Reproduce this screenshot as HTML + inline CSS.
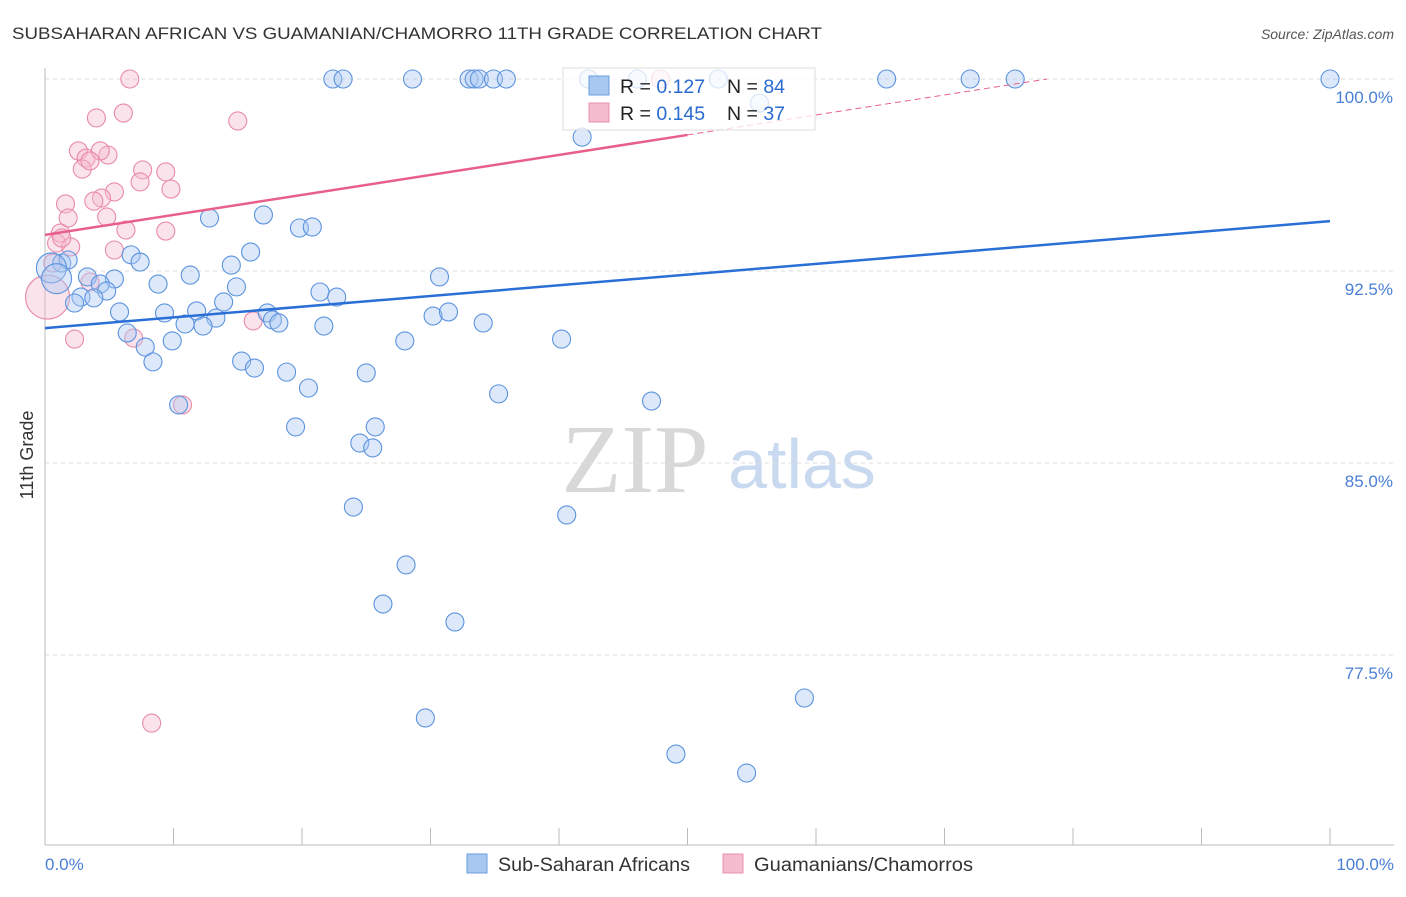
<!DOCTYPE html>
<html><head><meta charset="utf-8"><style>
body{margin:0;background:#fff;font-family:"Liberation Sans",sans-serif;}
svg text{font-family:"Liberation Sans",sans-serif;}
</style></head><body>
<svg width="1406" height="892" viewBox="0 0 1406 892">
<text x="12" y="39" font-size="17" fill="#333" textLength="810" lengthAdjust="spacingAndGlyphs">SUBSAHARAN AFRICAN VS GUAMANIAN/CHAMORRO 11TH GRADE CORRELATION CHART</text>
<text x="1394" y="39" font-size="14" fill="#555" font-style="italic" text-anchor="end">Source: ZipAtlas.com</text>
<g>
<text x="635" y="492" font-size="98" fill="#d8d8d8" text-anchor="middle" style="font-family:'Liberation Serif',serif">ZIP</text>
<text x="802" y="488" font-size="70" fill="#c9d9f0" text-anchor="middle">atlas</text>
</g>
<g id="grid"></g>
<g id="axes"></g>
<g id="pts"></g>
<g id="lines"></g>
<text x="33" y="455" font-size="18" fill="#333" text-anchor="middle" transform="rotate(-90 33 455)">11th Grade</text>
<g>
<rect x="563" y="68" width="252" height="62" fill="#fff" fill-opacity="0.75" stroke="#ddd"/>
<rect x="589" y="76" width="20" height="19" fill="#a8c8f0" stroke="#6a9de0"/>
<rect x="589" y="103" width="20" height="19" fill="#f5bcd0" stroke="#e890ad"/>
<text x="620" y="93" font-size="19.5" fill="#222">R = <tspan fill="#2a6bd0">0.127</tspan></text>
<text x="727" y="93" font-size="19.5" fill="#222">N = <tspan fill="#2a6bd0">84</tspan></text>
<text x="620" y="120" font-size="19.5" fill="#222">R = <tspan fill="#2a6bd0">0.145</tspan></text>
<text x="727" y="120" font-size="19.5" fill="#222">N = <tspan fill="#2a6bd0">37</tspan></text>
</g>
<g>
<rect x="467" y="854" width="20" height="19" fill="#a8c8f0" stroke="#6a9de0"/>
<text x="498" y="871" font-size="19" fill="#333" textLength="192" lengthAdjust="spacingAndGlyphs">Sub-Saharan Africans</text>
<rect x="723" y="854" width="20" height="19" fill="#f5bcd0" stroke="#e890ad"/>
<text x="754" y="871" font-size="19" fill="#333" textLength="219" lengthAdjust="spacingAndGlyphs">Guamanians/Chamorros</text>
</g>
</svg>
<script>
const blueX=[22.4,23.2,28.6,33.0,33.4,33.8,34.9,35.9,42.3,46.1,52.4,65.5,72.0,75.5,100,55.6,41.8,12.8,17.0,19.8,20.8,16.0,6.7,7.4,14.5,1.3,1.8,3.3,5.4,11.3,30.7,4.3,4.8,8.8,14.9,21.4,22.7,2.8,3.8,2.3,13.9,9.3,11.8,17.3,5.8,13.3,17.7,18.2,10.9,12.3,21.7,30.2,31.4,34.1,6.4,7.8,9.9,28.0,40.2,8.4,15.3,16.3,18.8,25.0,20.5,35.3,10.4,47.2,19.5,24.5,25.7,25.5,24.0,40.6,28.1,26.3,31.9,29.6,59.1,49.1,54.6];
const blueY=[100,100,100,100,100,100,100,100,100,100,100,100,100,100,100,99.06,97.73,94.57,94.69,94.18,94.22,93.24,93.13,92.85,92.73,92.81,92.93,92.27,92.19,92.34,92.27,91.99,91.72,91.99,91.88,91.68,91.48,91.48,91.45,91.25,91.29,90.86,90.94,90.86,90.90,90.66,90.59,90.47,90.43,90.35,90.35,90.74,90.90,90.47,90.08,89.53,89.77,89.77,89.84,88.95,88.98,88.71,88.55,88.52,87.93,87.70,87.27,87.42,86.41,85.78,86.41,85.59,83.28,82.97,81.02,79.49,78.79,75.04,75.82,73.63,72.89];
const blueBigX=[0.5,0.9];
const blueBigY=[92.62,92.2];
const pinkX=[6.6,47.9,4.0,6.1,15.0,2.6,3.2,4.9,4.3,2.9,3.5,7.6,9.4,7.4,9.8,5.4,4.4,1.6,3.8,1.8,4.8,6.3,9.4,1.2,0.9,2.0,5.4,1.3,0.6,3.5,16.2,2.3,6.9,10.7,8.3];
const pinkY=[100,100,98.48,98.67,98.36,97.19,96.91,97.03,97.19,96.48,96.80,96.45,96.37,95.98,95.70,95.59,95.35,95.12,95.23,94.57,94.61,94.10,94.06,93.98,93.59,93.44,93.32,93.79,92.81,92.07,90.55,89.84,89.88,87.27,74.84];
const pinkBigX=[0.2];
const pinkBigY=[91.48];
const blueTrend=[90.27,94.45];   // value at x=0, x=100
const pinkTrend=[93.91,101.72];
const yTicks=[100,92.5,85,77.5];
const yTickLabels=["100.0%","92.5%","85.0%","77.5%"];
const xTicks=[0,10,20,30,40,50,60,70,80,90,100];

const NS="http://www.w3.org/2000/svg";
const X=v=>45+v*12.85;
const Y=v=>79+(100-v)*25.6;
function mk(tag,attrs,parent){const e=document.createElementNS(NS,tag);for(const k in attrs)e.setAttribute(k,attrs[k]);document.getElementById(parent).appendChild(e);return e;}

yTicks.forEach((t,i)=>{
  const l=mk('line',{x1:45,x2:1394,y1:Y(t),y2:Y(t),stroke:'#ddd','stroke-dasharray':'4,4'},'grid');
  
  
  const tx=mk('text',{x:1393,y:Y(t)+24,'font-size':17,fill:'#4a7fd6','text-anchor':'end'},'grid');
  tx.textContent=yTickLabels[i];
  
  
});
const ax=mk('line',{x1:45,x2:45,y1:68,y2:845,stroke:'#bbb'},'axes');


const bx=mk('line',{x1:45,x2:1394,y1:845,y2:845,stroke:'#bbb'},'axes');


xTicks.forEach(t=>{
  const l=mk('line',{x1:X(t),x2:X(t),y1:828,y2:845,stroke:'#bbb'},'axes');
  
  
});
const x0=mk('text',{x:45,y:870,'font-size':17,fill:'#4a7fd6'},'axes');x0.textContent='0.0%';


const x1=mk('text',{x:1394,y:870,'font-size':17,fill:'#4a7fd6','text-anchor':'end'},'axes');x1.textContent='100.0%';



function dots(xs,ys,r,fill,stroke,name){
  xs.forEach((v,i)=>{
    const c=mk('circle',{cx:X(v),cy:Y(ys[i]),r:r,fill:fill,'fill-opacity':0.4,stroke:stroke,'stroke-width':1.1},'pts');
    
    
  });
}
dots(pinkX,pinkY,9,'#f5b8cc','#e88aaa','guamanian-point');
dots(pinkBigX,pinkBigY,22,'#f5b8cc','#e88aaa','guamanian-point');
dots(blueX,blueY,9,'#aac9f2','#5b93de','subsaharan-point');
dots(blueBigX,blueBigY,15,'#aac9f2','#5b93de','subsaharan-point');

const bl=mk('line',{x1:X(0),y1:Y(blueTrend[0]),x2:X(100),y2:Y(blueTrend[1]),stroke:'#2a6fd6','stroke-width':2.5},'lines');


const pAt=v=>pinkTrend[0]+(pinkTrend[1]-pinkTrend[0])*v/100;
const pl=mk('line',{x1:X(0),y1:Y(pAt(0)),x2:X(50),y2:Y(pAt(50)),stroke:'#e8608a','stroke-width':2.5},'lines');


const xEnd=(100-pinkTrend[0])/(pinkTrend[1]-pinkTrend[0])*100;
const pd=mk('line',{x1:X(50),y1:Y(pAt(50)),x2:X(xEnd),y2:Y(pAt(xEnd)),stroke:'#e8608a','stroke-width':1,'stroke-dasharray':'6,4'},'lines');


</script>
</body></html>
